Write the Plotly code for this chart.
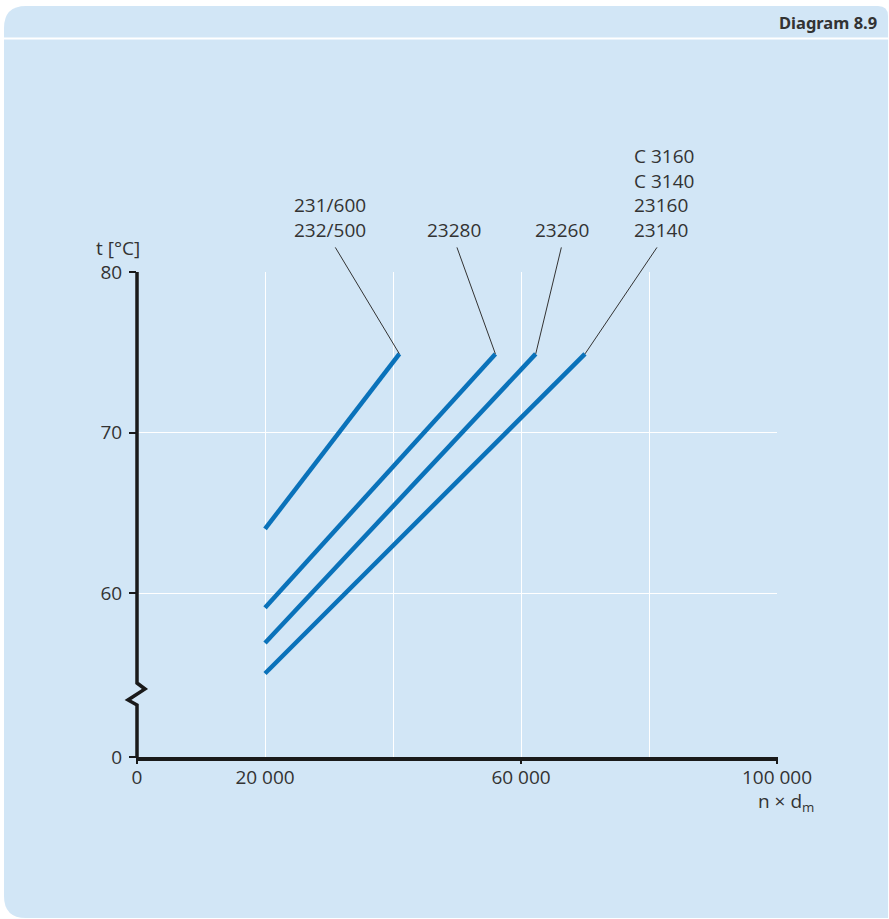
import plotly.graph_objects as go

# Bearing groups and their temperature / speed-factor lines
groups = [["231/600", "232/500"], ["23280"], ["23260"], ["C 3160", "C 3140", "23160", "23140"]]
ndm_start = [20000, 20000, 20000, 20000]
ndm_end = [41000, 56000, 62300, 70000]
t_start = [64.0, 59.1, 56.9, 55.0]
t_end = [74.9, 74.9, 74.9, 74.9]

x_tickvals = [0, 20000, 40000, 60000, 80000, 100000]
x_ticktext = ["0", "20 000", "", "60 000", "", "100 000"]
y_break = 49.8  # axis origin below the break, labelled 0
y_tickvals = [y_break, 60, 70, 80]
y_ticktext = ["0", "60", "70", "80"]

W, H = 889, 919
L, R, T, B = 137, 777, 272, 757  # plot-area edges in pixels

def px(x):
    return (x - L) / (R - L)

def py(y):
    return (B - y) / (B - T)

BLUE = "#0a72ba"
PANEL = "#d2e6f6"
TXT = "#333333"
FONT = "Open Sans"

fig = go.Figure()
for i in range(len(groups)):
    fig.add_trace(go.Scatter(
        x=[ndm_start[i], ndm_end[i]], y=[t_start[i], t_end[i]],
        mode="lines", line=dict(color=BLUE, width=4.5), hoverinfo="skip",
        showlegend=False, name=" / ".join(groups[i])))

shapes = []
# rounded background panel
x0, x1, y0, y1, r = px(4), px(900), py(6), py(918), 22
rx, ry = r / (R - L), r / (B - T)
shapes.append(dict(
    type="path", xref="paper", yref="paper", layer="below",
    path=(f"M {x0},{y0 - ry} Q {x0},{y0} {x0 + rx},{y0} "
          f"L {px(878)},{y0} Q {px(888)},{y0} {px(888)},{py(16)} "
          f"L {px(888)},{y1} L {x0 + rx},{y1} Q {x0},{y1} {x0},{y1 + ry} Z"),
    fillcolor=PANEL, line=dict(width=0)))
# white rule under the header
shapes.append(dict(type="line", xref="paper", yref="paper", layer="below",
                   x0=px(4), x1=px(889), y0=py(38.5), y1=py(38.5),
                   line=dict(color="white", width=2)))
# broken y axis with zigzag
shapes.append(dict(
    type="path", xref="paper", yref="paper",
    path=(f"M 0,{py(T)} L 0,{py(683)} L {8 / (R - L)},{py(689)} "
          f"L {-9 / (R - L)},{py(700)} L 0,{py(705)} L 0,0"),
    line=dict(color="#1a1a1a", width=3.5)))
# x tick marks
for xv in [0, 60000, 100000]:
    xp = xv / 100000
    shapes.append(dict(type="line", xref="paper", yref="paper",
                       x0=xp, x1=xp, y0=0, y1=-7 / (B - T),
                       line=dict(color="#1a1a1a", width=2)))

annotations = []
# leader lines from line ends to group labels
leader_dx = [-65, -39, 26, 73]
for i in range(len(groups)):
    annotations.append(dict(
        x=ndm_end[i], y=t_end[i], xref="x", yref="y", text="",
        showarrow=True, arrowhead=0, arrowwidth=1, arrowcolor="#333333",
        ax=leader_dx[i], ay=-108, standoff=0, startstandoff=0))

# group labels, bottom line aligned at the same height
label_left = [292, 425, 533, 632]
for i, names in enumerate(groups):
    annotations.append(dict(
        x=px(label_left[i]), y=py(245), xref="paper", yref="paper",
        xanchor="left", yanchor="bottom", align="left",
        text="<br>".join(names), showarrow=False,
        font=dict(family=FONT, size=19, color=TXT)))

annotations.append(dict(x=px(142), y=py(248), xref="paper", yref="paper",
                        xanchor="right", yanchor="middle", text="t [°C]",
                        showarrow=False, font=dict(family=FONT, size=19, color=TXT)))
annotations.append(dict(x=px(816), y=py(802), xref="paper", yref="paper",
                        xanchor="right", yanchor="middle",
                        text="n × d<sub>m</sub>",
                        showarrow=False, font=dict(family=FONT, size=19, color=TXT)))
annotations.append(dict(x=px(879), y=py(22), xref="paper", yref="paper",
                        xanchor="right", yanchor="middle", text="<b>Diagram 8.9</b>",
                        showarrow=False, font=dict(family="Noto Sans", size=16.5, color=TXT)))

fig.update_layout(
    width=W, height=H, autosize=False,
    margin=dict(l=L, r=W - R, t=T, b=H - B, pad=0),
    paper_bgcolor="white", plot_bgcolor="rgba(0,0,0,0)",
    font=dict(family=FONT, size=19, color=TXT),
    shapes=shapes, annotations=annotations, showlegend=False,
    xaxis=dict(range=[0, 100000], tickvals=x_tickvals, ticktext=x_ticktext,
               showgrid=True, gridcolor="white", gridwidth=1, zeroline=False,
               showline=True, linecolor="#1a1a1a", linewidth=3.5, ticks="",
               ticklabelstandoff=0, fixedrange=True),
    yaxis=dict(range=[y_break, 80], tickvals=y_tickvals, ticktext=y_ticktext,
               showgrid=True, gridcolor="white", gridwidth=1, zeroline=False,
               showline=False, ticks="outside", ticklen=7, tickwidth=2,
               tickcolor="#1a1a1a", ticklabelstandoff=3, fixedrange=True),
)

fig.write_html("out.html")
